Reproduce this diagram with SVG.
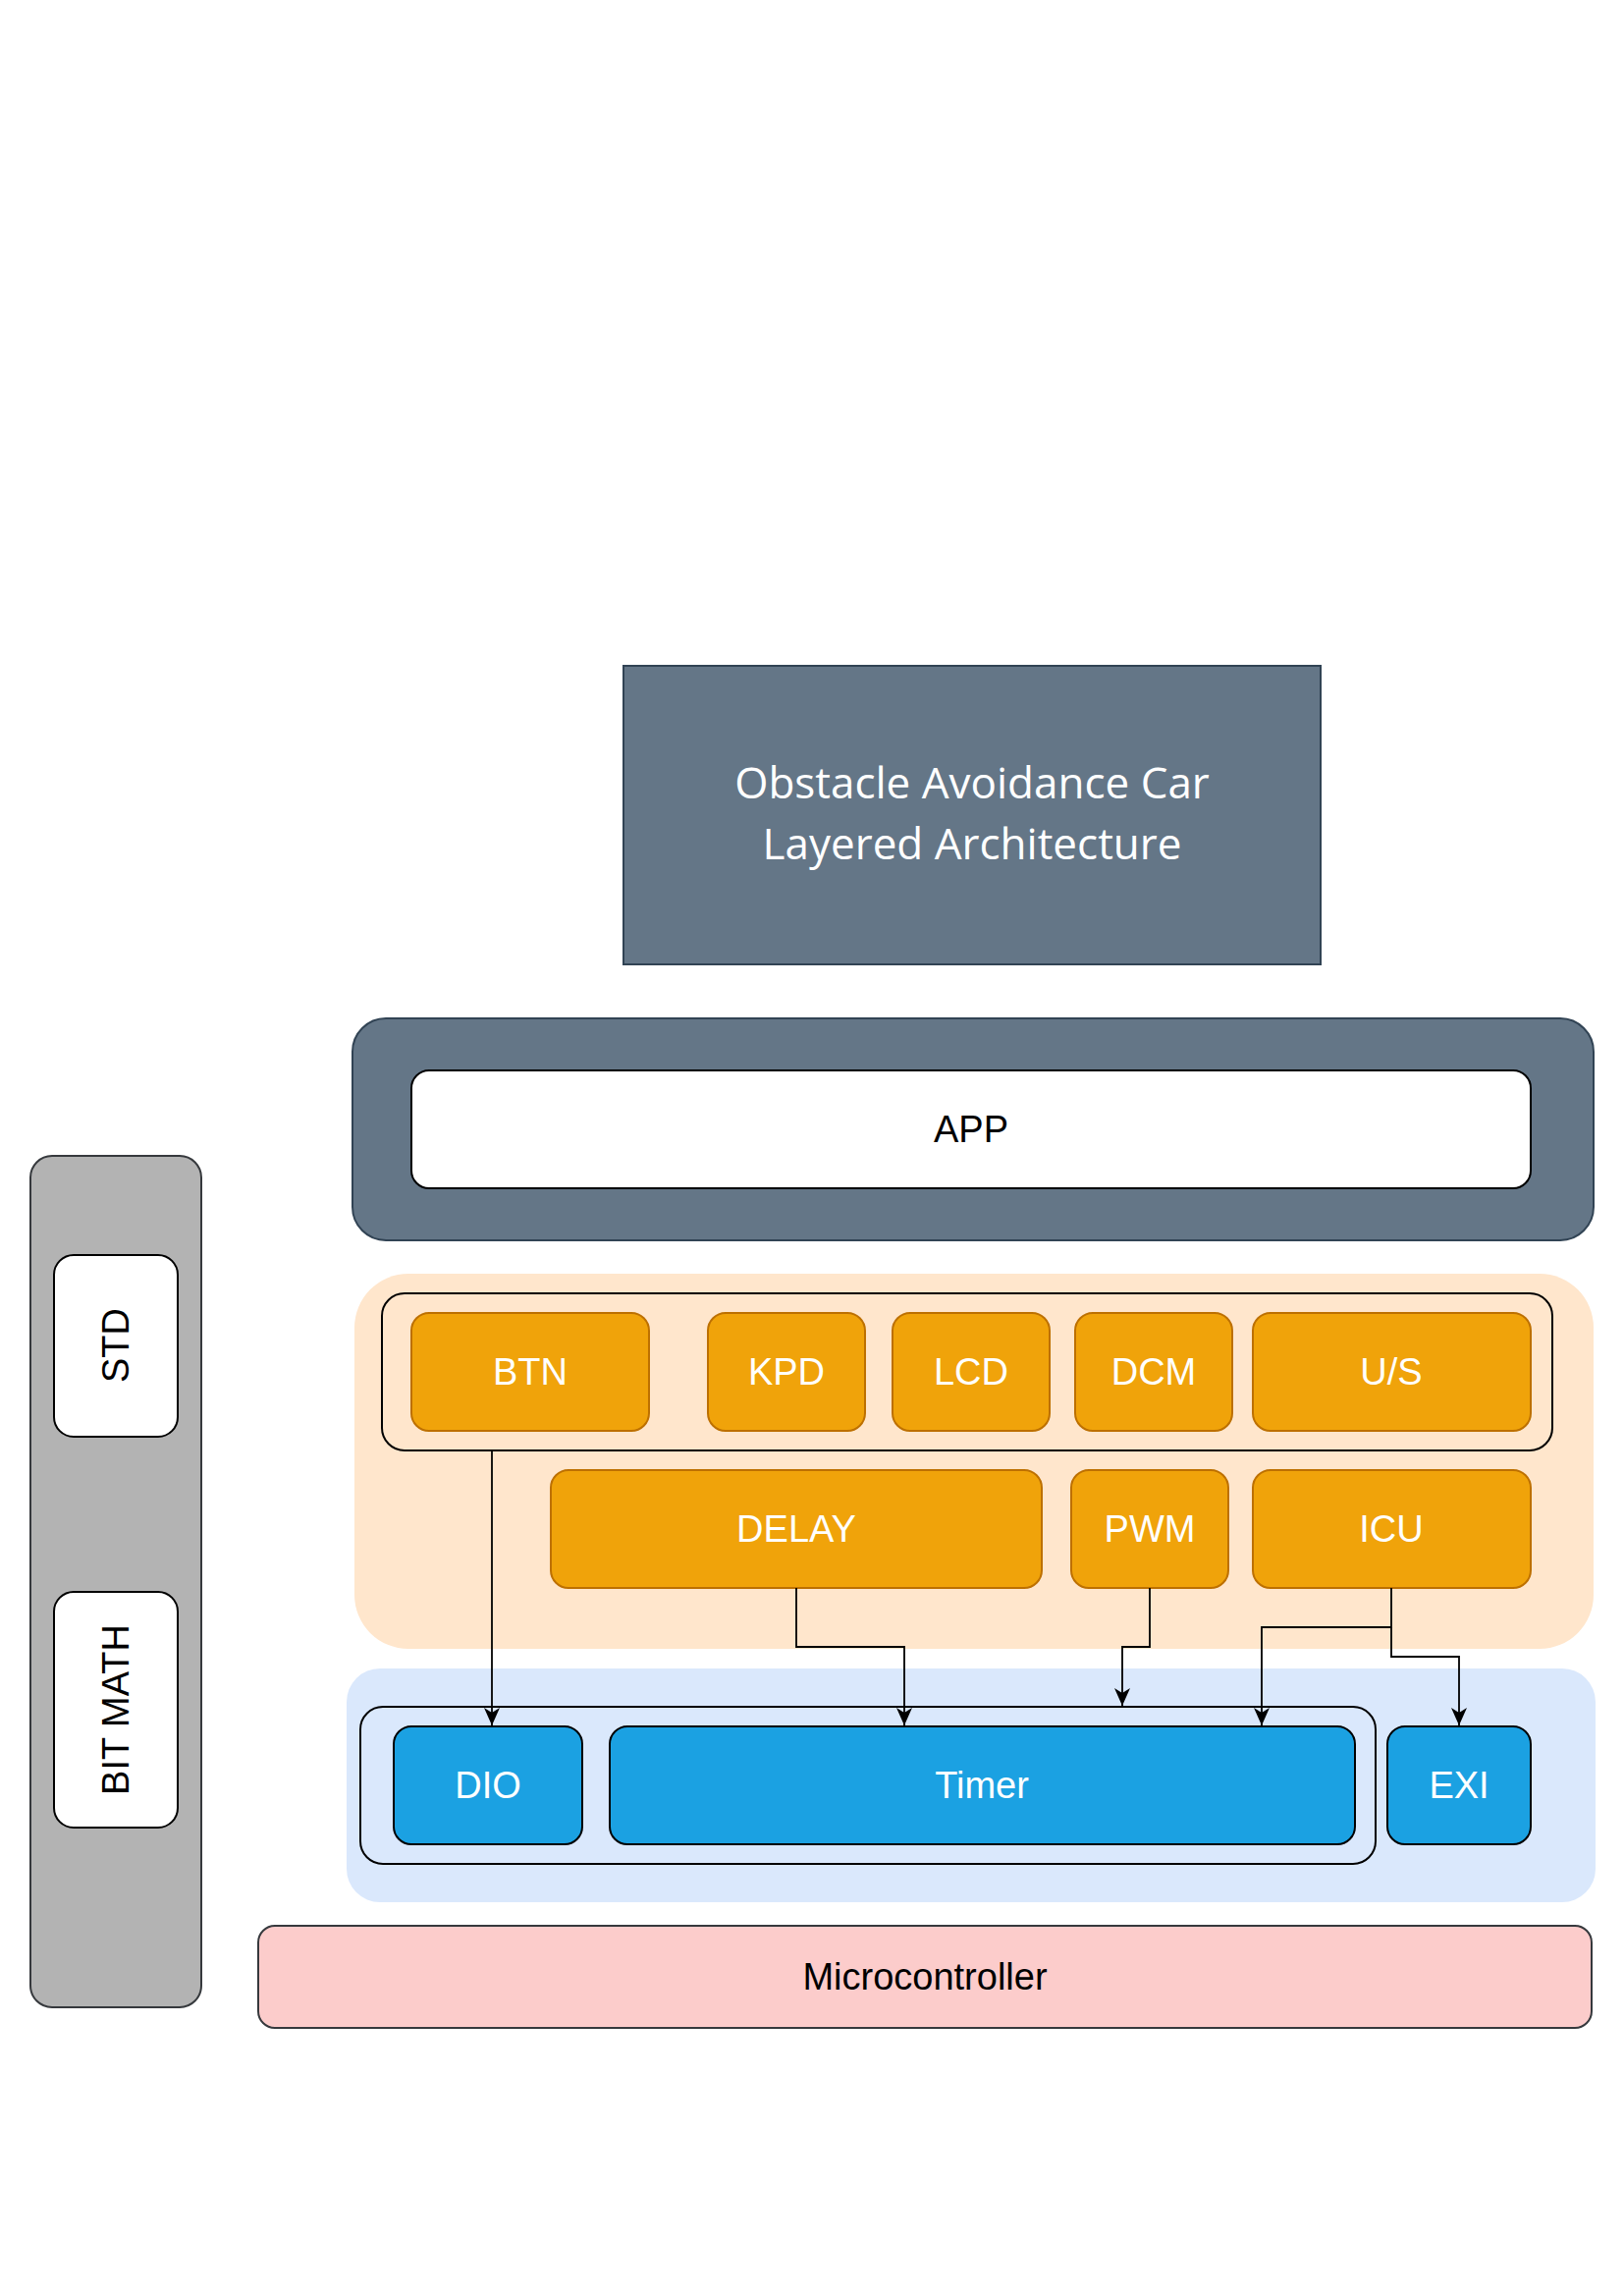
<svg xmlns="http://www.w3.org/2000/svg" width="1654" height="2338" viewBox="0 0 1654 2338">
<style>
text{font-family:"Liberation Sans",Arial,sans-serif;font-size:38px;text-anchor:middle}
.title{font-family:"Open Sans","Noto Sans",sans-serif;font-size:44px;fill:#fff}
.slate{fill:#647687;stroke:#314354;stroke-width:2}
.white{fill:#fff;stroke:#000;stroke-width:2}
.frame{fill:none;stroke:#000;stroke-width:2}
.orange{fill:#f0a30a;stroke:#bd7000;stroke-width:2}
.blue{fill:#1ba1e2;stroke:#000;stroke-width:2}
.wt{fill:#fff}
.bt{fill:#000}
.conn{fill:none;stroke:#000;stroke-width:1.8}
</style>
<defs>
<marker id="arr" markerUnits="userSpaceOnUse" markerWidth="18" markerHeight="16" viewBox="0 0 18 16" refX="18" refY="8" orient="auto">
<path d="M0,0 L18,8 L0,16 L5,8 Z" fill="#000"/>
</marker>
</defs>
<rect width="1654" height="2338" fill="#fff"/>

<g id="title">
<rect class="slate" x="635" y="678" width="710" height="304"/>
<text class="title" x="990" y="813">Obstacle Avoidance Car</text>
<text class="title" x="990" y="875">Layered Architecture</text>
</g>

<g id="app-layer">
<rect class="slate" x="359" y="1037" width="1264" height="226" rx="34"/>
</g>
<g id="app">
<rect class="white" x="419" y="1090" width="1140" height="120" rx="18"/>
<text class="bt" x="989" y="1163">APP</text>
</g>

<g id="driver-layer">
<rect x="361" y="1297" width="1262" height="382" rx="55" fill="#ffe6cc"/>
<rect class="frame" x="389" y="1317" width="1192" height="160" rx="23"/>
</g>
<g id="btn"><rect class="orange" x="419" y="1337" width="242" height="120" rx="18"/><text class="wt" x="540" y="1410">BTN</text></g>
<g id="kpd"><rect class="orange" x="721" y="1337" width="160" height="120" rx="18"/><text class="wt" x="801" y="1410">KPD</text></g>
<g id="lcd"><rect class="orange" x="909" y="1337" width="160" height="120" rx="18"/><text class="wt" x="989" y="1410">LCD</text></g>
<g id="dcm"><rect class="orange" x="1095" y="1337" width="160" height="120" rx="18"/><text class="wt" x="1175" y="1410">DCM</text></g>
<g id="us"><rect class="orange" x="1276" y="1337" width="283" height="120" rx="18"/><text class="wt" x="1417" y="1410">U/S</text></g>
<g id="delay"><rect class="orange" x="561" y="1497" width="500" height="120" rx="18"/><text class="wt" x="811" y="1570">DELAY</text></g>
<g id="pwm"><rect class="orange" x="1091" y="1497" width="160" height="120" rx="18"/><text class="wt" x="1171" y="1570">PWM</text></g>
<g id="icu"><rect class="orange" x="1276" y="1497" width="283" height="120" rx="18"/><text class="wt" x="1417" y="1570">ICU</text></g>

<g id="mcal-layer">
<rect x="353" y="1699" width="1272" height="238" rx="34" fill="#dae8fc"/>
<rect class="frame" x="367" y="1738" width="1034" height="160" rx="23"/>
</g>
<g id="dio"><rect class="blue" x="401" y="1758" width="192" height="120" rx="18"/><text class="wt" x="497" y="1831">DIO</text></g>
<g id="timer"><rect class="blue" x="621" y="1758" width="759" height="120" rx="18"/><text class="wt" x="1000" y="1831">Timer</text></g>
<g id="exi"><rect class="blue" x="1413" y="1758" width="146" height="120" rx="18"/><text class="wt" x="1486" y="1831">EXI</text></g>

<g id="microcontroller">
<rect x="263" y="1961" width="1358" height="104" rx="17" fill="#fccccb" stroke="#36393d" stroke-width="2"/>
<text class="bt" x="942" y="2026">Microcontroller</text>
</g>

<g id="common">
<rect x="31" y="1177" width="174" height="867" rx="22" fill="#b3b3b3" stroke="#36393d" stroke-width="2"/>
</g>
<g id="std">
<rect class="white" x="55" y="1278" width="126" height="185" rx="20"/>
<text class="bt" transform="translate(131,1370) rotate(-90)">STD</text>
</g>
<g id="bitmath">
<rect class="white" x="55" y="1621" width="126" height="240" rx="20"/>
<text class="bt" transform="translate(131,1741) rotate(-90)">BIT MATH</text>
</g>

<g id="connectors">
<path class="conn" d="M501,1477 V1757" marker-end="url(#arr)"/>
<path class="conn" d="M811,1617 V1677 H921 V1757" marker-end="url(#arr)"/>
<path class="conn" d="M1171,1617 V1677 H1143 V1737" marker-end="url(#arr)"/>
<path class="conn" d="M1417,1617 V1657 H1285 V1757" marker-end="url(#arr)"/>
<path class="conn" d="M1417,1657 V1687 H1486 V1757" marker-end="url(#arr)"/>
</g>
</svg>
